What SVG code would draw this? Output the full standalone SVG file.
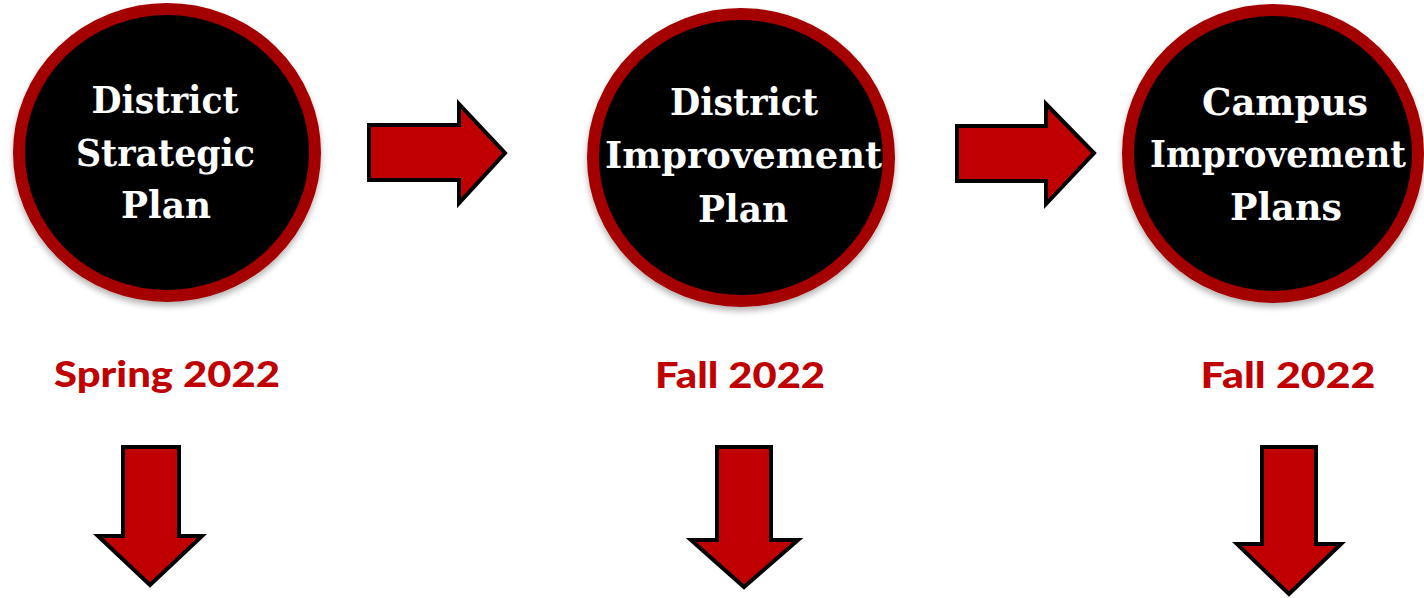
<svg xmlns="http://www.w3.org/2000/svg" width="1424" height="598" viewBox="0 0 1424 598">
<style>
.ring{fill:#000;stroke:#A50000;stroke-width:12}
.ct{font-family:"DejaVu Serif",serif;font-weight:bold;font-size:38px;fill:#fff;text-anchor:middle}
.dt{font-family:Lato,"Open Sans",sans-serif;font-weight:900;font-size:36px;fill:#C00000;text-anchor:middle}
.arr{fill:#C00000;stroke:#000;stroke-width:4;stroke-linejoin:miter}
</style>
<defs>
<filter id="sh" x="-10%" y="-10%" width="120%" height="125%">
<feGaussianBlur in="SourceAlpha" stdDeviation="3"/>
<feOffset dx="0" dy="4" result="b"/>
<feComponentTransfer><feFuncA type="linear" slope="0.3"/></feComponentTransfer>
<feMerge><feMergeNode/><feMergeNode in="SourceGraphic"/></feMerge>
</filter>
</defs>
<rect width="1424" height="598" fill="#fff"/>
<g id="node-strategic">
<ellipse class="ring" cx="167" cy="152.5" rx="148" ry="143.5" filter="url(#sh)"/>
<text class="ct" x="165" y="113" textLength="147" lengthAdjust="spacingAndGlyphs">District</text>
<text class="ct" x="165.5" y="166" textLength="179" lengthAdjust="spacingAndGlyphs">Strategic</text>
<text class="ct" x="166" y="218" textLength="90" lengthAdjust="spacingAndGlyphs">Plan</text>
<text class="dt" x="167" y="387" textLength="226" lengthAdjust="spacingAndGlyphs">Spring 2022</text>
</g>
<g id="node-district">
<ellipse class="ring" cx="741" cy="157.5" rx="148" ry="143.5" filter="url(#sh)"/>
<text class="ct" x="744" y="115" textLength="148" lengthAdjust="spacingAndGlyphs">District</text>
<text class="ct" x="743.5" y="168" textLength="277" lengthAdjust="spacingAndGlyphs">Improvement</text>
<text class="ct" x="743" y="222" textLength="90" lengthAdjust="spacingAndGlyphs">Plan</text>
<text class="dt" x="740" y="388" textLength="170" lengthAdjust="spacingAndGlyphs">Fall 2022</text>
</g>
<g id="node-campus">
<ellipse class="ring" cx="1273" cy="153.5" rx="145" ry="143.5" filter="url(#sh)"/>
<text class="ct" x="1285" y="115" textLength="166" lengthAdjust="spacingAndGlyphs">Campus</text>
<text class="ct" x="1278" y="167" font-size="35" textLength="256" lengthAdjust="spacingAndGlyphs">Improvement</text>
<text class="ct" x="1286" y="220" textLength="112" lengthAdjust="spacingAndGlyphs">Plans</text>
<text class="dt" x="1288" y="388" textLength="175" lengthAdjust="spacingAndGlyphs">Fall 2022</text>
</g>
<g id="connectors">
<polygon class="arr" points="369,125 459,125 459,104 505,153 459,203 459,180 369,180"/>
<polygon class="arr" points="957,126 1046,126 1046,104 1094,153 1046,204 1046,181 957,181"/>
<polygon class="arr" points="123,447 179,447 179,536 202,536 150,585 98,536 123,536"/>
<polygon class="arr" points="717,447 771,447 771,540 798,540 744,587 691,540 717,540"/>
<polygon class="arr" points="1262,447 1316,447 1316,544 1341,544 1289,594 1237,544 1262,544"/>
</g>
</svg>
